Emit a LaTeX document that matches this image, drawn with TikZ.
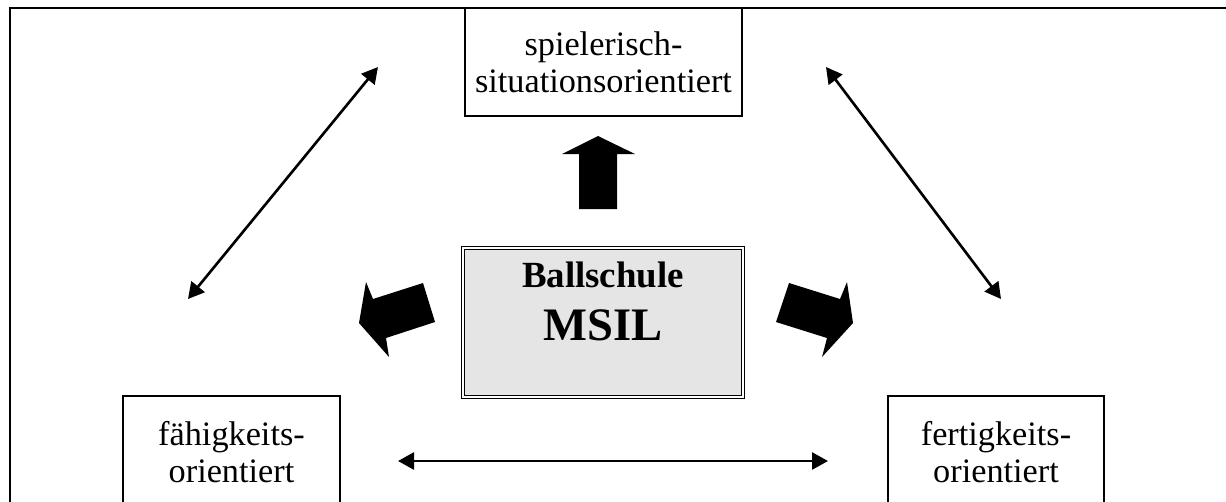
\documentclass[tikz,border=0pt]{standalone}
\usepackage{fontspec}
\setmainfont{Liberation Serif}
\usetikzlibrary{arrows.meta}
\definecolor{boxgray}{gray}{0.9}

\begin{document}
\begin{tikzpicture}[x=0.02cm,y=-0.02cm,
	kasten/.style={draw, line width=1.4pt, align=center, inner sep=0pt,
		font=\fontsize{19.5}{21}\selectfont},
	pfeil/.style={{Triangle[length=3.2mm,width=3.4mm]}-{Triangle[length=3.2mm,width=3.4mm]}, line width=1.5pt}]
	\clip (0,0) rectangle (1226,501);
	\draw[line width=1.4pt] (10,520) -- (10,8) -- (1240,8);
	% Kaesten
	\node[kasten, minimum width=5.54cm, minimum height=2.16cm] (spiel) at (603.5,62) {spielerisch-\\situationsorientiert};
	\node[kasten, minimum width=4.34cm, minimum height=2.26cm, anchor=north] (faeh) at (231.5,394.5) {fähigkeits-\\orientiert};
	\node[kasten, minimum width=4.32cm, minimum height=2.26cm, anchor=north] (fert) at (996,394.5) {fertigkeits-\\orientiert};
	\draw[line width=1.4pt] (faeh.south west) -- ++(0,40);
	\draw[line width=1.4pt] (faeh.south east) -- ++(0,40);
	\draw[line width=1.4pt] (fert.south west) -- ++(0,40);
	\draw[line width=1.4pt] (fert.south east) -- ++(0,40);
	\node[draw, fill=boxgray, line width=1pt, double, double distance=0.8pt,
		minimum width=5.6cm, minimum height=2.98cm, inner sep=0pt] (msil) at (603,322.5) {};
	\node[anchor=north, inner sep=0pt, align=center, font=\bfseries\fontsize{21}{30}\selectfont] (msiltext) at (603,262)
		{Ballschule\\{\fontsize{26.5}{30}\selectfont MSIL}};
	% dicke Pfeile
	\coordinate (O1) at (598,136);
	\coordinate (O2) at (635,154);
	\coordinate (O3) at (617,154);
	\coordinate (O4) at (617,209);
	\coordinate (O5) at (579,209);
	\coordinate (O6) at (579,154);
	\coordinate (O7) at (562,154);
	\fill (O1) -- (O2) -- (O3) -- (O4) -- (O5) -- (O6) -- (O7) -- cycle;
	\coordinate (L1) at (359,323);
	\coordinate (L2) at (366,282);
	\coordinate (L3) at (373,299);
	\coordinate (L4) at (423,283);
	\coordinate (L5) at (435,322);
	\coordinate (L6) at (386,338);
	\coordinate (L7) at (389,357);
	\fill (L1) -- (L2) -- (L3) -- (L4) -- (L5) -- (L6) -- (L7) -- cycle;
	\coordinate (R1) at (853,323);
	\coordinate (R2) at (847,282);
	\coordinate (R3) at (840,299);
	\coordinate (R4) at (789,283);
	\coordinate (R5) at (776,322);
	\coordinate (R6) at (827,338);
	\coordinate (R7) at (822,357);
	\fill (R1) -- (R2) -- (R3) -- (R4) -- (R5) -- (R6) -- (R7) -- cycle;
	% duenne Pfeile
	\coordinate (A1) at (188,299);
	\coordinate (A2) at (378,67);
	\coordinate (B1) at (826,67);
	\coordinate (B2) at (1001,299);
	\coordinate (C1) at (398,461);
	\coordinate (C2) at (828,461);
	\draw[pfeil] (A1) -- (A2);
	\draw[pfeil] (B1) -- (B2);
	\draw[pfeil] (C1) -- (C2);
\end{tikzpicture}
\end{document}
